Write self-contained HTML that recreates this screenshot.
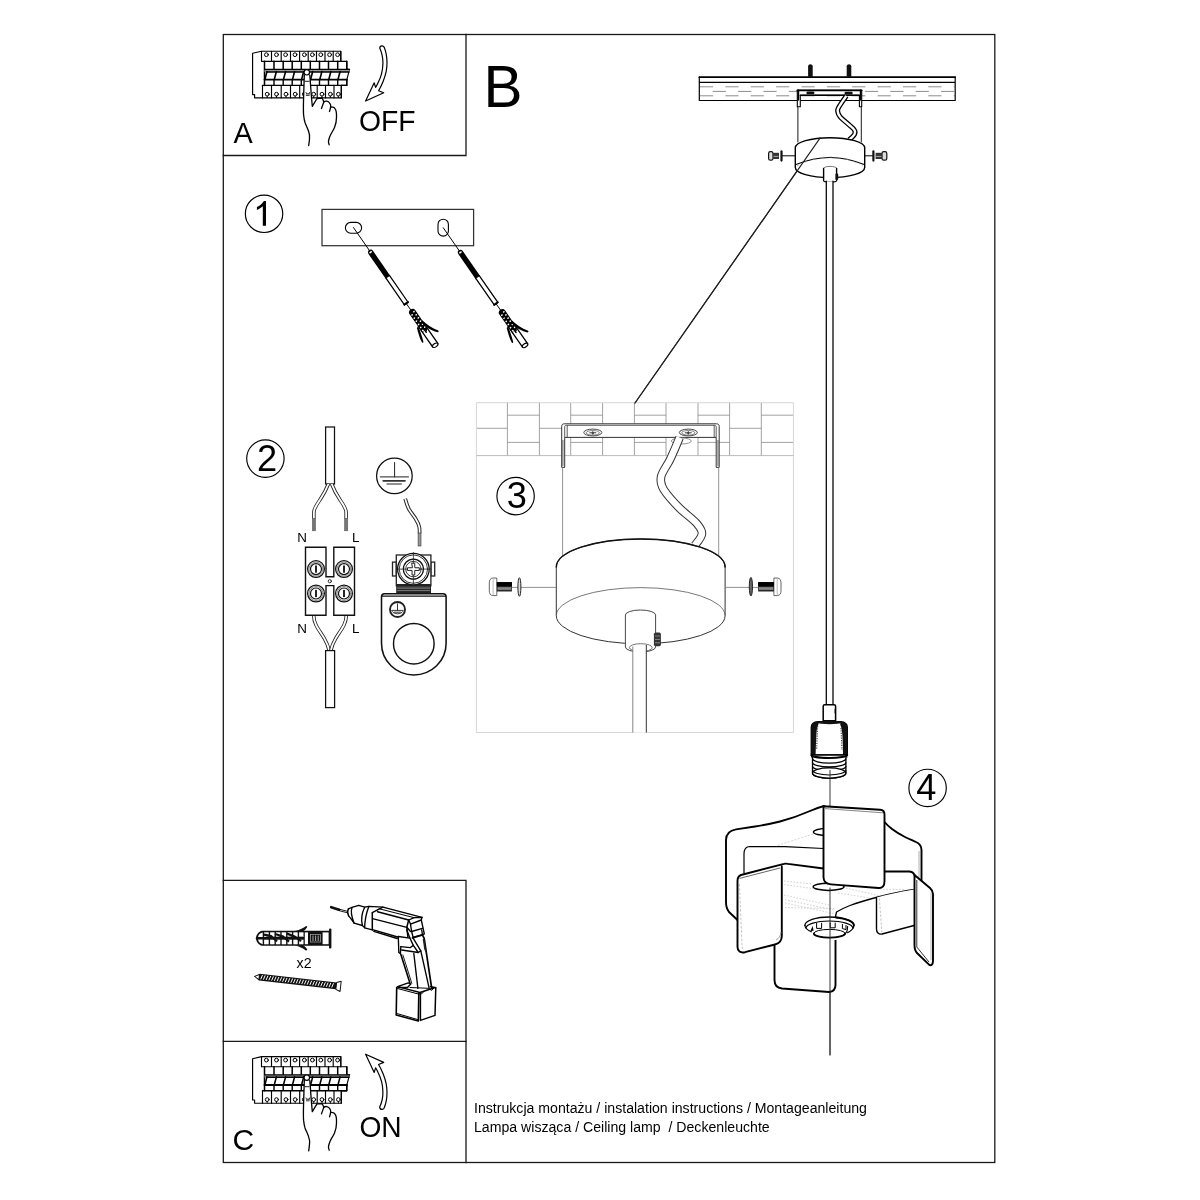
<!DOCTYPE html>
<html>
<head>
<meta charset="utf-8">
<title>Instrukcja montażu</title>
<style>
html,body{margin:0;padding:0;background:#fff;}
body{width:1200px;height:1200px;overflow:hidden;font-family:"Liberation Sans",sans-serif;}
svg{display:block;position:absolute;left:0;top:0;will-change:transform;}
text{font-family:"Liberation Sans",sans-serif;fill:#000;}
.k{fill:none;stroke:#000;stroke-linecap:round;stroke-linejoin:round;}
.w{fill:#fff;stroke:#000;stroke-linecap:round;stroke-linejoin:round;}
.b{fill:#000;stroke:none;}
.g{fill:none;stroke:#9a9a9a;stroke-width:0.8;stroke-linecap:round;stroke-linejoin:round;}
</style>
</head>
<body>
<svg width="1200" height="1200" viewBox="0 0 1200 1200">
<!-- 00_frame.svg -->
<g id="frame" class="k" stroke-width="1.3" style="stroke:#1a1a1a;stroke-linecap:square;stroke-linejoin:miter">
  <rect x="223.3" y="34.5" width="771.5" height="1128"/>
  <path d="M223.3 155.5H466V34.5"/>
  <path d="M223.3 880.4H466V1162.5"/>
  <path d="M223.3 1041.3H466"/>
</g>
<g id="labels" opacity="0.999">
  <text x="233.5" y="143.2" font-size="28.8">A</text>
  <text transform="translate(359,131) scale(1,1.05)" font-size="28.3">OFF</text>
  <text x="232.4" y="1150.2" font-size="30">C</text>
  <text transform="translate(359.4,1136.8) scale(1,1.07)" font-size="28.2">ON</text>
  <text x="483.5" y="106.8" font-size="58.5">B</text>
  <text x="474" y="1112.8" font-size="14.12" xml:space="preserve">Instrukcja montażu / instalation instructions / Montageanleitung</text>
  <text x="474" y="1131.8" font-size="14.12" xml:space="preserve">Lampa wisząca / Ceiling lamp  / Deckenleuchte</text>
</g>
<!-- 10_breaker.svg -->
<defs><g id="brk">
<path class="w" stroke-width="1.15" d="M261.5 51.2H340.8V61.3H346.8V69.4H349.5L346.8 79.8V85.4H341.3V97.8H254.6V94.6H252.6V53.3L261.5 51.2Z"/>
<path class="k" stroke-width="1.15" d="M261.5 51.2V61.3M271.5 51.2V61.3M281.2 51.2V61.3M290.5 51.2V61.3M299.6 51.2V61.3M308.2 51.2V61.3M316.5 51.2V61.3M325 51.2V61.3M333.2 51.2V61.3M340.8 51.2V61.3M261.5 61.3H340.8"/>
<circle class="k" stroke-width="1" cx="266.4" cy="54.7" r="1.9"/>
<circle class="k" stroke-width="1" cx="276.5" cy="54.7" r="1.9"/>
<circle class="k" stroke-width="1" cx="285.6" cy="54.7" r="1.9"/>
<circle class="k" stroke-width="1" cx="295" cy="54.7" r="1.9"/>
<circle class="k" stroke-width="1" cx="304.4" cy="54.7" r="1.9"/>
<circle class="k" stroke-width="1" cx="312.4" cy="54.7" r="1.9"/>
<circle class="k" stroke-width="1" cx="320.8" cy="54.7" r="1.9"/>
<circle class="k" stroke-width="1" cx="329.6" cy="54.7" r="1.9"/>
<circle class="k" stroke-width="1" cx="337.6" cy="54.7" r="1.9"/>
<path class="k" stroke-width="1.5" d="M264.5 61.3V85.4M274 61.3V69.4M283.2 61.3V69.4M292.2 61.3V69.4M301.3 61.3V69.4M310.3 61.3V69.4M319.5 61.3V69.4M328.5 61.3V69.4M337.7 61.3V69.4M346.8 61.3V69.4"/>
<path d="M264.5 69.4H349.6L349 72H264.5Z" fill="#9a9a9a"/>
<path class="k" stroke-width="1.2" d="M264.5 69.4H349.6"/>
<path class="k" stroke-width="1.5" d="M266.4 71.9H349"/>
<path class="k" stroke-width="1.8" d="M264.5 79.6H347"/>
<path class="k" stroke-width="1.6" d="M276.4 71.5L274.4 79M285.59999999999997 71.5L283.59999999999997 79M294.59999999999997 71.5L292.59999999999997 79M303.7 71.5L301.7 79M312.7 71.5L310.7 79M321.9 71.5L319.9 79M330.9 71.5L328.9 79M340.09999999999997 71.5L338.09999999999997 79M267 71.5L265 79"/>
<path class="k" stroke-width="1.4" d="M274 79.8V85.4M283.2 79.8V85.4M292.2 79.8V85.4M301.3 79.8V85.4M310.3 79.8V85.4M319.5 79.8V85.4M328.5 79.8V85.4M337.7 79.8V85.4M346.8 79.8V85.4M262.5 85.4H346.8"/>
<path class="k" stroke-width="1.15" d="M262.5 85.4V97.8M271.5 85.4V97.8M281.2 85.4V97.8M290.5 85.4V97.8M299.7 85.4V97.8M308.3 85.4V97.8M317.2 85.4V97.8M325.5 85.4V97.8M334 85.4V97.8M341.3 85.4V97.8"/>
<circle class="k" stroke-width="1" cx="267.2" cy="94.2" r="1.9"/>
<path class="k" stroke-width="0.9" d="M267.2 96.1V97.6"/>
<circle class="k" stroke-width="1" cx="276.5" cy="94.2" r="1.9"/>
<path class="k" stroke-width="0.9" d="M276.5 96.1V97.6"/>
<circle class="k" stroke-width="1" cx="286" cy="94.2" r="1.9"/>
<path class="k" stroke-width="0.9" d="M286 96.1V97.6"/>
<circle class="k" stroke-width="1" cx="295.2" cy="94.2" r="1.9"/>
<path class="k" stroke-width="0.9" d="M295.2 96.1V97.6"/>
<circle class="k" stroke-width="1" cx="304.3" cy="94.2" r="1.9"/>
<path class="k" stroke-width="0.9" d="M304.3 96.1V97.6"/>
<circle class="k" stroke-width="1" cx="313.7" cy="94.2" r="1.9"/>
<path class="k" stroke-width="0.9" d="M313.7 96.1V97.6"/>
<circle class="k" stroke-width="1" cx="322" cy="94.2" r="1.9"/>
<path class="k" stroke-width="0.9" d="M322 96.1V97.6"/>
<circle class="k" stroke-width="1" cx="330.4" cy="94.2" r="1.9"/>
<path class="k" stroke-width="0.9" d="M330.4 96.1V97.6"/>
<circle class="k" stroke-width="1" cx="338.4" cy="94.2" r="1.9"/>
<path class="k" stroke-width="0.9" d="M338.4 96.1V97.6"/>
<path d="M304.3 75 L303.6 97.5 C303.4 104 303.2 110 303.6 115 C304 118.5 304.4 120.8 305 122.5 C306.2 125.6 307.6 128.4 308.5 131 C309.6 134 309.9 136.5 309.5 139 C309.3 141.5 309 143.5 308.7 145.5 L329.2 144.8 C328.7 143.4 328.3 142.3 328.5 141 C328.9 139 329.3 137.6 330 136 C331.4 133 333.2 130.5 334.5 127.5 C335.8 124.4 336.5 121 336.5 117.5 C336.6 114.5 336.5 111.5 335.5 109.5 C334.8 108.2 334 107.4 333 107.2 L330.6 107 C330.8 105.6 330.8 104.8 330.2 104 C329.4 102.6 328.4 101.5 327 101.2 C325.8 100.9 324.6 101.3 323.8 102 C323.4 100.6 322.8 99.2 322 98.2 L317 98.5 L312.3 106.3 L311.5 97.5 L309.8 75 Z" fill="#fff" stroke="none"/>
<path class="k" stroke-width="1.3" d="M304.3 75 L303.6 97.5 C303.4 104 303.2 110 303.6 115 C304 118.5 304.4 120.8 305 122.5 C306.2 125.6 307.6 128.4 308.5 131 C309.6 134 309.9 136.5 309.5 139 C309.3 141.5 309 143.5 308.7 145.5"/>
<path class="k" stroke-width="1.3" d="M309.8 75 L311.5 97.5 L312.3 106.3 L317 98.5 L322 98.2 C322.8 99.2 323.4 100.6 323.8 102 C323 104.2 322.2 106.4 321.5 108.5"/>
<path class="k" stroke-width="1.3" d="M323.8 102 C324.6 101.3 325.8 100.9 327 101.2 C328.4 101.5 329.4 102.6 330.2 104 C330.8 104.8 330.8 105.6 330.6 107 C330.4 108.6 330 110 329.5 111.5"/>
<path class="k" stroke-width="1.3" d="M330.6 107 L333 107.2 C334 107.4 334.8 108.2 335.5 109.5 C336.5 111.5 336.6 114.5 336.5 117.5 C336.5 121 335.8 124.4 334.5 127.5 C333.2 130.5 331.4 133 330 136 C329.3 137.6 328.9 139 328.5 141 C328.3 142.3 328.7 143.4 329.2 144.8"/>
<circle class="w" stroke-width="1.1" cx="306.8" cy="72.3" r="2.7"/>
<path class="k" stroke-width="0.9" d="M305.3 81.3H309"/>
<path class="k" stroke-width="0.8" d="M306 92.5L307 94.5L308 93.2L309 94.5L309.6 92.5M306.3 95.4H309.2"/>
</g>
<path id="arw" class="w" stroke-width="1.2" d="M379.7 48.1 C379.9 46.4 381 45.7 382.2 45.8 C383.4 45.9 384.1 46.6 384.3 47.6 C385.2 49.8 385.8 52 386.2 54.1 C386.8 57 387 60 387 62.8 C387 65.8 386.7 68.7 386.2 71.4 C385.5 74.8 384.5 78 383.2 81.2 C381.9 84.4 380.4 87.6 378.6 90.7 L383.7 92.8 L365.6 101 L374.2 82.8 L375.6 87.4 C376.6 85.8 377.5 84.1 378.3 82.3 C379.7 79.5 380.8 76.6 381.6 73.6 C382.4 70.4 382.8 67.1 382.9 63.8 C383 60.9 382.7 58 382.1 55.2 C381.6 52.8 380.8 50.4 379.7 48.1Z"/>
</defs>
<use href="#brk"/>
<use href="#arw"/>
<use href="#brk" transform="translate(0,1005.4)"/>
<use href="#arw" transform="translate(0,1155.2) scale(1,-1)"/>
<!-- 20_step1.svg -->
<defs><g id="scr">
<path class="k" stroke-width="0.9" d="M-30 0H0M63 0H70"/>
<path class="b" d="M0.5 -2.7H29.5L31 -2.2V2.7H0.5C-1.6 2.7 -2.6 1.6 -2.6 0C-2.6 -1.6 -1.6 -2.7 0.5 -2.7Z"/>
<ellipse cx="0" cy="0" rx="0.9" ry="1.5" fill="#fff"/>
<path class="w" stroke-width="1.25" d="M29.8 -2.2H62.5V2.2H29.8Z"/>
<path class="k" stroke-width="2" d="M62.3 -2.2V2.2"/>
<path class="w" stroke-width="1.3" d="M88 -3.1H113.3V3.1H88Z"/>
<ellipse class="w" stroke-width="1.2" cx="113.3" cy="0" rx="1.7" ry="3.1"/>
<path class="b" d="M69.7 0C70.2 -2.6 71.5 -3.6 73.5 -3.7L94 -3.4L97 -1.2L94 0.8L97 3.4H73.5C71.5 3.6 70.2 2.6 69.7 0Z"/>
<ellipse cx="73.6" cy="-1.7" rx="0.75" ry="0.95" fill="#fff"/>
<ellipse cx="75.19999999999999" cy="1.7" rx="0.75" ry="0.95" fill="#fff"/>
<ellipse cx="77.4" cy="-1.7" rx="0.75" ry="0.95" fill="#fff"/>
<ellipse cx="79.0" cy="1.7" rx="0.75" ry="0.95" fill="#fff"/>
<ellipse cx="81.2" cy="-1.7" rx="0.75" ry="0.95" fill="#fff"/>
<ellipse cx="82.8" cy="1.7" rx="0.75" ry="0.95" fill="#fff"/>
<ellipse cx="85" cy="-1.7" rx="0.75" ry="0.95" fill="#fff"/>
<ellipse cx="86.6" cy="1.7" rx="0.75" ry="0.95" fill="#fff"/>
<ellipse cx="88.8" cy="-1.7" rx="0.75" ry="0.95" fill="#fff"/>
<ellipse cx="90.39999999999999" cy="1.7" rx="0.75" ry="0.95" fill="#fff"/>
<ellipse cx="92.4" cy="-1.7" rx="0.75" ry="0.95" fill="#fff"/>
<ellipse cx="94.0" cy="1.7" rx="0.75" ry="0.95" fill="#fff"/>
<path class="b" d="M85 -3.4C91 -4.6 97.5 -7 103 -10.9C104 -11 104.6 -10 103.9 -9.2C99 -5.2 93.5 -2.6 88 -1.6Z"/>
<path class="b" d="M88 3.3C93 4 98.5 6 103.4 7.6C104.6 8.2 104.3 9.6 103 9.3C97.5 8.6 92.5 6.4 88.6 5.2Z"/>
<path class="k" stroke-width="1.5" d="M90 0H97.5"/>
</g></defs>
<rect x="322" y="209.4" width="151.6" height="36.3" class="k" style="stroke:#333;stroke-linejoin:miter" stroke-width="1.25" transform="scale(1)" />
<rect x="345.4" y="222.4" width="16.2" height="10.9" rx="5.45" class="k" stroke-width="1.1"/>
<rect x="438" y="219.2" width="10.4" height="16.9" rx="5.2" class="k" stroke-width="1.1"/>
<use href="#scr" transform="translate(370.6,252.2) rotate(55.2)"/>
<use href="#scr" transform="translate(460.4,252.4) rotate(55.2)"/>
<circle class="k" stroke-width="1.15" cx="264.05" cy="213.75" r="18.7"/>
<path d="M266 201V225.8H262.8V206.3C261.2 207.8 259.2 209.1 256.9 210V207.1C259.8 205.8 262.4 203.6 263.9 201Z" fill="#000"/>
<circle class="k" stroke-width="1.15" cx="265.4" cy="458.6" r="18.7"/>
<text x="267.1" y="470.5" font-size="36.2" text-anchor="middle" opacity="0.999">2</text>
<circle class="k" stroke-width="1.15" cx="515.6" cy="496.1" r="18.7"/>
<text x="516.9" y="508.1" font-size="36.2" text-anchor="middle" opacity="0.999">3</text>
<circle class="k" stroke-width="1.15" cx="927.6" cy="787.9" r="18.7"/>
<text x="926.4" y="799.6" font-size="36.2" text-anchor="middle" opacity="0.999">4</text>
<!-- 30_step2.svg -->
<g id="step2" style="stroke:#222">
<rect class="w" style="stroke:#111;stroke-linejoin:miter" stroke-width="1.25" x="325.6" y="427" width="8.9" height="57"/>
<path d="M328.4 484C326 490 323.4 494.6 320.3 499.3C317.4 503.6 314.8 507 314 511C313.8 513.5 313.9 516 313.9 518.6" fill="none" stroke="#222" stroke-width="3.5" stroke-linecap="butt"/>
<path d="M328.4 484C326 490 323.4 494.6 320.3 499.3C317.4 503.6 314.8 507 314 511C313.8 513.5 313.9 516 313.9 518.6" fill="none" stroke="#fff" stroke-width="1.8" stroke-linecap="butt"/>
<path d="M331.7 484C334 490 336.6 494.6 339.7 499.3C342.6 503.6 345.2 507 346 511C346.2 513.5 346.1 516 346.1 518.6" fill="none" stroke="#222" stroke-width="3.5" stroke-linecap="butt"/>
<path d="M331.7 484C334 490 336.6 494.6 339.7 499.3C342.6 503.6 345.2 507 346 511C346.2 513.5 346.1 516 346.1 518.6" fill="none" stroke="#fff" stroke-width="1.8" stroke-linecap="butt"/>
<rect x="312.3" y="518.4" width="3.3" height="12.4" fill="#777" stroke="#555" stroke-width="0.5"/>
<rect x="344.5" y="518.4" width="3.3" height="12.4" fill="#777" stroke="#555" stroke-width="0.5"/>
<path d="M313.7 615.3C313.7 619 314.3 621.6 316 625C318.2 629.4 321.4 633.6 324.4 638.6C326.6 642.4 328.4 646.4 329.2 650.6" fill="none" stroke="#222" stroke-width="3.5" stroke-linecap="butt"/>
<path d="M313.7 615.3C313.7 619 314.3 621.6 316 625C318.2 629.4 321.4 633.6 324.4 638.6C326.6 642.4 328.4 646.4 329.2 650.6" fill="none" stroke="#fff" stroke-width="1.8" stroke-linecap="butt"/>
<path d="M346.3 615.3C346.3 619 345.7 621.6 344 625C341.8 629.4 338.6 633.6 335.6 638.6C333.4 642.4 331.6 646.4 330.8 650.6" fill="none" stroke="#222" stroke-width="3.5" stroke-linecap="butt"/>
<path d="M346.3 615.3C346.3 619 345.7 621.6 344 625C341.8 629.4 338.6 633.6 335.6 638.6C333.4 642.4 331.6 646.4 330.8 650.6" fill="none" stroke="#fff" stroke-width="1.8" stroke-linecap="butt"/>
<rect class="w" style="stroke:#111;stroke-linejoin:miter" stroke-width="1.25" x="325.6" y="650.6" width="9" height="57"/>
<path class="w" style="stroke:#111;stroke-linejoin:miter" stroke-width="1.4" d="M305.5 547.3H326V576.7H333.8V547.3H354.5V615.3H333.8V585.6H326V615.3H305.5Z"/>
<circle class="k" style="stroke:#222" stroke-width="0.9" cx="329.8" cy="581.2" r="1.6"/>
<circle class="k" style="stroke:#111" stroke-width="1.25" cx="316" cy="569.1" r="8.4"/>
<circle class="k" style="stroke:#555" stroke-width="0.7" cx="316" cy="569.1" r="7"/>
<circle class="k" style="stroke:#111" stroke-width="1.2" cx="316" cy="569.1" r="5.5"/>
<rect x="315.15" y="565.5" width="1.7" height="7.2" fill="#000" stroke="none"/>
<circle class="k" style="stroke:#111" stroke-width="1.25" cx="316" cy="593.5" r="8.4"/>
<circle class="k" style="stroke:#555" stroke-width="0.7" cx="316" cy="593.5" r="7"/>
<circle class="k" style="stroke:#111" stroke-width="1.2" cx="316" cy="593.5" r="5.5"/>
<rect x="315.15" y="589.9" width="1.7" height="7.2" fill="#000" stroke="none"/>
<circle class="k" style="stroke:#111" stroke-width="1.25" cx="344" cy="569.1" r="8.4"/>
<circle class="k" style="stroke:#555" stroke-width="0.7" cx="344" cy="569.1" r="7"/>
<circle class="k" style="stroke:#111" stroke-width="1.2" cx="344" cy="569.1" r="5.5"/>
<rect x="343.15" y="565.5" width="1.7" height="7.2" fill="#000" stroke="none"/>
<circle class="k" style="stroke:#111" stroke-width="1.25" cx="344" cy="593.5" r="8.4"/>
<circle class="k" style="stroke:#555" stroke-width="0.7" cx="344" cy="593.5" r="7"/>
<circle class="k" style="stroke:#111" stroke-width="1.2" cx="344" cy="593.5" r="5.5"/>
<rect x="343.15" y="589.9" width="1.7" height="7.2" fill="#000" stroke="none"/>
<text x="297.3" y="542.4" font-size="13.4" stroke="none" opacity="0.999">N</text>
<text x="352" y="542.4" font-size="13.4" stroke="none" opacity="0.999">L</text>
<text x="297.3" y="633.4" font-size="13.4" stroke="none" opacity="0.999">N</text>
<text x="352" y="633.4" font-size="13.4" stroke="none" opacity="0.999">L</text>
<circle class="k" style="stroke:#111" stroke-width="1.25" cx="394.4" cy="475.9" r="17.8"/>
<path class="k" style="stroke:#222" stroke-width="1" d="M394.6 462.5V476.9M380.3 476.9H408.5M386.9 484H401.5"/>
<path class="k" style="stroke:#333" stroke-width="1.6" d="M383.2 480.9H405"/>
<path d="M405.2 498.7C406.2 502.4 407.2 505.6 408.8 508.8C410.8 512.4 413.6 515.6 415.6 518.8C417.4 521.6 418.8 524.6 419.4 527.5C419.7 529.4 419.6 531.2 419.6 533.2" fill="none" stroke="#222" stroke-width="3.7" stroke-linecap="butt"/>
<path d="M405.2 498.7C406.2 502.4 407.2 505.6 408.8 508.8C410.8 512.4 413.6 515.6 415.6 518.8C417.4 521.6 418.8 524.6 419.4 527.5C419.7 529.4 419.6 531.2 419.6 533.2" fill="none" stroke="#fff" stroke-width="1.7" stroke-linecap="butt"/>
<rect x="418.1" y="533" width="2.9" height="13" fill="#999" stroke="#333" stroke-width="0.6"/>
<path class="w" style="stroke:#111" stroke-width="1.55" d="M384.5 593.8H443.1C445.3 593.8 446.1 595 446.1 597V643.2C446.1 661 431.6 674.9 413.8 674.9C396 674.9 381.5 661 381.5 643.2V597C381.5 595 382.3 593.8 384.5 593.8Z"/>
<path class="k" style="stroke:#111" stroke-width="1.2" d="M382 596.2H445.6"/>
<circle class="k" style="stroke:#111" stroke-width="1.45" cx="413.8" cy="643.7" r="20.3"/>
<circle class="k" style="stroke:#222" stroke-width="1.9" cx="397.5" cy="609.5" r="7.5"/>
<path class="k" style="stroke:#222" stroke-width="0.9" d="M397.5 603.8V610.3M391.8 610.4H403.2M392.3 611.6C394 614.6 401 614.6 402.7 611.6M394.5 612.2H400.5"/>
<rect class="w" style="stroke:#222;stroke-linejoin:miter" stroke-width="1.3" x="392.5" y="562.1" width="3.8" height="13.9"/>
<rect class="w" style="stroke:#222;stroke-linejoin:miter" stroke-width="1.3" x="430.9" y="562.1" width="3.8" height="13.9"/>
<rect class="w" style="stroke:#222;stroke-linejoin:miter" stroke-width="1.3" x="396.3" y="555" width="34.6" height="30.8"/>
<rect x="396.2" y="584" width="34.8" height="9.2" fill="#222" stroke="none"/>
<path d="M397.2 587.2H430M397.2 588.6H430" stroke="#888" stroke-width="0.7" fill="none"/>
<path d="M397.2 590.6H430" stroke="#bbb" stroke-width="0.6" fill="none"/>
<circle class="w" style="stroke:#111" stroke-width="1.3" cx="413.4" cy="569.1" r="15.8"/>
<circle class="k" style="stroke:#222" stroke-width="0.9" cx="413.4" cy="569.1" r="14.2"/>
<circle class="k" style="stroke:#111" stroke-width="1.3" cx="413.4" cy="569.1" r="10"/>
<circle class="k" style="stroke:#222" stroke-width="0.9" cx="413.4" cy="569.1" r="7.7"/>
<path class="k" style="stroke:#222" stroke-width="0.8" d="M413.4 552.6V585.6M396.3 569.1H430.9"/>
<path class="w" style="stroke:#222;stroke-linejoin:miter" stroke-width="1" d="M412.04999999999995 563.2H414.75V567.75H419.29999999999995V570.45H414.75V575.0H412.04999999999995V570.45H407.5V567.75H412.04999999999995Z"/>
</g>
<!-- 40_step3.svg -->
<g id="step3">
<path d="M476.4 428.3H507.4M507.4 415.2H539.4M507.4 442.4H539.4M539.4 428.3H570.7M570.7 415.2H602.6M570.7 442.4H602.6M602.6 428.3H634.4M634.4 415.2H666M634.4 442.4H666M666 428.3H698M698 415.2H729.6M698 442.4H729.6M729.6 428.3H761.3M761.3 415.2H793.4M761.3 442.4H793.4M507.4 402.7V455.7M539.4 402.7V455.7M570.7 402.7V455.7M602.6 402.7V455.7M634.4 402.7V455.7M666 402.7V455.7M698 402.7V455.7M729.6 402.7V455.7M761.3 402.7V455.7" fill="none" stroke="#8a8a8a" stroke-width="0.8"/>
<path d="M476.4 402.7H793.4V732.5H476.4Z" fill="none" stroke="#d6d6d6" stroke-width="1"/>
<path d="M476.4 455.6H793.4" fill="none" stroke="#b4b4b4" stroke-width="0.9"/>
<path class="k" stroke-width="1.15" style="stroke:#222" d="M635 403L820 138.2"/>
<path d="M561.7 467.4V426.4C561.7 424.6 562.6 423.8 564.4 423.8H716.5C718.3 423.8 719.2 424.6 719.2 426.4V467.4H716.2V437.4H564.7V467.4Z" fill="#fff" stroke="#333" stroke-width="1" stroke-linejoin="round"/>
<path d="M564.7 437.4V427C564.7 425.8 565.3 425.3 566.5 425.3H714.4C715.6 425.3 716.2 425.8 716.2 427V437.4M567.2 425.3V437.4M714.2 425.3V437.4" fill="none" stroke="#333" stroke-width="0.8"/>
<path d="M562.9 440V466" fill="none" stroke="#777" stroke-width="1.2"/>
<path d="M718 440V466" fill="none" stroke="#777" stroke-width="1.2"/>
<path d="M562.6 467.4V556M718.7 467.4V556" fill="none" stroke="#777" stroke-width="0.8"/>
<ellipse cx="592.8" cy="432.5" rx="9" ry="3.4" fill="#fff" stroke="#333" stroke-width="0.9"/>
<ellipse cx="592.8" cy="432.8" rx="6.6" ry="2.3" fill="none" stroke="#555" stroke-width="0.7"/>
<path d="M589.4 432.8H596.1999999999999M592.8 431.2V434.6" fill="none" stroke="#222" stroke-width="0.9"/>
<ellipse cx="592.8" cy="432.9" rx="1.2" ry="1" fill="#444"/>
<ellipse cx="688.3" cy="432.5" rx="9" ry="3.4" fill="#fff" stroke="#333" stroke-width="0.9"/>
<ellipse cx="688.3" cy="432.8" rx="6.6" ry="2.3" fill="none" stroke="#555" stroke-width="0.7"/>
<path d="M684.9 432.8H691.6999999999999M688.3 431.2V434.6" fill="none" stroke="#222" stroke-width="0.9"/>
<ellipse cx="688.3" cy="432.9" rx="1.2" ry="1" fill="#444"/>
<ellipse cx="681.3" cy="441" rx="10" ry="3" fill="#fff" stroke="#777" stroke-width="0.8"/>
<path d="M679.6 437.6C676.6 445 673.6 452 670.4 458.8C667 466 662 471.4 661 477C660.2 481.6 661.4 485.6 663.7 489.5C668 496.4 674 502.6 680 508.6C686 514.4 693 519 697.2 524C699.8 527.2 702.2 530.2 702 533.5C701.8 537.4 698.6 540.6 694.6 545.5" fill="none" stroke="#333" stroke-width="8.6" stroke-linecap="butt"/>
<path d="M679.6 437.6C676.6 445 673.6 452 670.4 458.8C667 466 662 471.4 661 477C660.2 481.6 661.4 485.6 663.7 489.5C668 496.4 674 502.6 680 508.6C686 514.4 693 519 697.2 524C699.8 527.2 702.2 530.2 702 533.5C701.8 537.4 698.6 540.6 694.6 545.5" fill="none" stroke="#fff" stroke-width="6.6" stroke-linecap="butt"/>
<path d="M556.3000000000001 567A84.4 28.1 0 0 1 725.1 567V615.7A84.4 28.1 0 0 1 556.3000000000001 615.7Z" fill="#fff" stroke="#333" stroke-width="1"/>
<path d="M556.3000000000001 615.7A84.4 28.1 0 0 1 725.1 615.7" fill="none" stroke="#555" stroke-width="0.8"/>
<path d="M556.3000000000001 567A84.4 28.1 0 0 1 725.1 567" fill="none" stroke="#111" stroke-width="1.5" stroke-linecap="round"/>
<path d="M511.9 587.4H556.3M725.1 587.4H758.1" fill="none" stroke="#777" stroke-width="0.8"/>
<path d="M496.8 578H492.90000000000003C490.3 578 489.3 580.4 489.3 583V590.6C489.3 593.2 490.3 595.6 492.90000000000003 595.6H496.8Z" fill="#fff" stroke="#555" stroke-width="0.9"/>
<path d="M493.1 578.4V595.2" fill="none" stroke="#aaa" stroke-width="0.8"/>
<rect x="496.8" y="582.1" width="15.099999999999966" height="9.4" fill="#2a2a2a"/>
<rect x="496.8" y="582.1" width="15.099999999999966" height="4.2" fill="#000"/>
<rect x="497.6" y="587.2" width="13.499999999999966" height="2.6" fill="#8a8a8a"/>
<path d="M773.9 578H777.4C780 578 781 580.4 781 583V590.6C781 593.2 780 595.6 777.4 595.6H773.9Z" fill="#fff" stroke="#555" stroke-width="0.9"/>
<path d="M777.2 578.4V595.2" fill="none" stroke="#aaa" stroke-width="0.8"/>
<rect x="758.1" y="582.1" width="15.799999999999955" height="9.4" fill="#2a2a2a"/>
<rect x="758.1" y="582.1" width="15.799999999999955" height="4.2" fill="#000"/>
<rect x="758.9" y="587.2" width="14.199999999999955" height="2.6" fill="#8a8a8a"/>
<ellipse cx="519.4" cy="587" rx="1.5" ry="9.3" fill="#ddd" stroke="#222" stroke-width="1"/>
<ellipse cx="750.9" cy="586.7" rx="1.6" ry="9.3" fill="#666" stroke="#222" stroke-width="1"/>
<path d="M625.4 615A15.1 5 0 0 1 655.6 615V647A15.1 5 0 0 1 625.4 647Z" fill="#fff" stroke="#333" stroke-width="0.9"/>
<ellipse cx="640.8" cy="647.6" rx="11.4" ry="3.9" fill="#fff" stroke="#555" stroke-width="0.8"/>
<rect x="632.8" y="646.5" width="13.4" height="86" fill="#fff" stroke="none"/>
<path d="M632.8 646.5V732.5" fill="none" stroke="#777" stroke-width="0.9"/>
<path d="M646.3 645V732.5" fill="none" stroke="#333" stroke-width="1"/>
<rect x="653.9" y="632.6" width="7" height="13.6" rx="1.6" fill="#333"/>
<path d="M655 636H660M655 639.4H660M655 642.8H660" stroke="#aaa" stroke-width="0.7" fill="none"/>
</g>
<!-- 50_main.svg -->
<g id="main">
<rect x="699.3" y="77.2" width="255.9" height="23.3" fill="#fff" stroke="none"/>
<path d="M700.0 86.8H713.2M700.0 95.8H713.2M725.4 86.8H738.6M725.4 95.8H738.6M750.7 86.8H763.9M750.7 95.8H763.9M776.1 86.8H789.3M776.1 95.8H789.3M801.5 86.8H814.7M801.5 95.8H814.7M826.9 86.8H840.1M826.9 95.8H840.1M852.2 86.8H865.4M852.2 95.8H865.4M877.6 86.8H890.8M877.6 95.8H890.8M903.0 86.8H916.2M903.0 95.8H916.2M928.3 86.8H941.5M928.3 95.8H941.5M953.7 86.8H954.6M953.7 95.8H954.6M712.7 91.4H725.9M738.1 91.4H751.3M763.4 91.4H776.6M788.8 91.4H802.0M814.2 91.4H827.4M839.5 91.4H852.7M864.9 91.4H878.1M890.3 91.4H903.5M915.6 91.4H928.8M941.0 91.4H954.2" fill="none" stroke="#777" stroke-width="0.85"/>
<path class="k" stroke-width="1.7" d="M699.3 77.2H955.2"/>
<path class="k" stroke-width="1.2" d="M699.3 77.2V100.5H955.2V77.2M699.3 82.4H955.2"/>
<path d="M808.1 77V66.3C808.1 63.6 812.6999999999999 63.6 812.6999999999999 66.3V77Z" fill="#111"/>
<path d="M846.7 77V66.3C846.7 63.6 851.3 63.6 851.3 66.3V77Z" fill="#111"/>
<path d="M797.3 106.8V90.3H861.7V106.8H859.4V95.2H800.3V106.8Z" fill="#fff" stroke="#000" stroke-width="1.1" stroke-linejoin="round"/>
<path class="k" stroke-width="1.7" d="M797.3 90.3H861.7"/>
<path class="k" stroke-width="1.6" d="M798.4 90.3V100M860.6 90.3V100"/>
<path class="k" stroke-width="1.5" d="M800.3 95.2H859.4"/>
<rect x="806.4" y="91.6" width="8" height="2.6" rx="1.2" fill="#111"/>
<rect x="844.6" y="91.8" width="8" height="2.8" rx="1.2" fill="#111"/>
<path class="k" stroke-width="0.9" d="M797.9 107V142M861.3 107V142"/>
<path d="M846.3 95.8C844.4 98.8 842.4 101.6 840.5 104.5C838.8 107 837.4 108.8 837.6 110.9C837.8 113.4 838.8 115.4 840.5 117.3C843.4 120.2 846.8 122.8 849.8 125.5C852.2 127.6 855 129.6 855.1 131.9C855.2 134 853.8 135.8 852.2 137.2C851.2 138.1 850.2 138.8 849.3 139.6" fill="none" stroke="#000" stroke-width="5" stroke-linecap="butt"/>
<path d="M846.3 95.8C844.4 98.8 842.4 101.6 840.5 104.5C838.8 107 837.4 108.8 837.6 110.9C837.8 113.4 838.8 115.4 840.5 117.3C843.4 120.2 846.8 122.8 849.8 125.5C852.2 127.6 855 129.6 855.1 131.9C855.2 134 853.8 135.8 852.2 137.2C851.2 138.1 850.2 138.8 849.3 139.6" fill="none" stroke="#fff" stroke-width="2.4" stroke-linecap="butt"/>
<path d="M795.3 147.8A34.7 10.1 0 0 1 864.7 147.8V167.5A34.7 10.1 0 0 1 795.3 167.5Z" fill="#fff" stroke="#000" stroke-width="1.4" stroke-linejoin="round"/>
<path d="M796 164.6Q830 150.4 864 164.6" fill="none" stroke="#000" stroke-width="1.1"/>
<path d="M797 166Q830 148 863 166" fill="none" stroke="#999" stroke-width="0.7" stroke-dasharray="2.5 6"/>
<path class="k" stroke-width="1.15" style="stroke:#222" d="M635 403L820 138.2"/>
<path class="k" stroke-width="1" d="M782 155.8H795.3M864.7 155.8H873"/>
<rect x="768.6" y="151.6" width="4.399999999999977" height="8.6" rx="1.8" fill="#ddd" stroke="#111" stroke-width="1.2"/>
<rect x="773" y="152.8" width="6" height="6.2" fill="#333"/>
<path d="M773.6 156.4H778.4" stroke="#aaa" stroke-width="1" fill="none"/>
<path d="M781.5 151.4V160.6" stroke="#111" stroke-width="2.2" fill="none" stroke-linecap="round"/>
<rect x="882" y="151.6" width="4.7999999999999545" height="8.6" rx="1.8" fill="#ddd" stroke="#111" stroke-width="1.2"/>
<rect x="875.6" y="152.8" width="6.399999999999977" height="6.2" fill="#333"/>
<path d="M876.2 156.4H881.4" stroke="#aaa" stroke-width="1" fill="none"/>
<path d="M873.4 151.4V160.6" stroke="#111" stroke-width="2.2" fill="none" stroke-linecap="round"/>
<path d="M823.6 168.4A6.5 2 0 0 1 836.6 168.4V180.6H823.6Z" fill="#fff" stroke="none"/>
<path d="M823.6 168.4A6.5 2 0 0 1 836.6 168.4" fill="none" stroke="#555" stroke-width="0.8"/>
<path class="k" stroke-width="1.4" d="M823.6 168.4V180.6M836.6 168.4V180.6"/>
<path d="M823.6 180.4A6.5 1.6 0 0 0 836.6 180.4" fill="#fff" stroke="#000" stroke-width="1.2"/>
<rect x="835.4" y="173.6" width="2.8" height="6.4" rx="1" fill="#111"/>
<rect x="826.4" y="181.5" width="6.6" height="524" fill="#fff" stroke="none"/>
<path class="k" stroke-width="1.25" d="M826.3 181.2V704.8M833 181.2V704.8"/>
<path d="M823.2 720.8V706.2C823.2 705.2 823.8 704.8 824.8 704.8H834C835 704.8 835.6 705.2 835.6 706.2V720.8Z" fill="#fff" stroke="#000" stroke-width="1.5" stroke-linejoin="round"/>
<path class="k" stroke-width="1.2" d="M835.2 709V713"/>
<path d="M811.3 755V727.5C811.3 724 814 722 818 721.7H840.6C844.6 722 847.3 724 847.3 727.5V755Z" fill="#fff" stroke="#000" stroke-width="1.4" stroke-linejoin="round"/>
<path d="M811.3 758V727.5C811.3 724 814 722 818 721.7L818.6 724C816.8 727 816.6 731 816.3 736C816 742 815.8 748 815.6 754.5Z" fill="#111"/>
<path d="M847.3 758V727.5C847.3 724 844.6 722 840.6 721.7L840.2 724.4C841.8 728 842.2 732 842.5 737C842.8 743 843 749 843 754.5Z" fill="#111"/>
<path d="M814 722.6C819 720.9 824 720.8 829.4 720.8C834.6 720.8 840 720.9 844.6 722.6C840 724 835 724.2 829.4 724.2C824 724.2 819 724 814 722.6Z" fill="#111"/>
<path d="M817.6 726L816.6 750M841 728L842 750" stroke="#444" stroke-width="1.2" fill="none" stroke-dasharray="1.2 1.2"/>
<path d="M812.5 755V773A16.7 5.2 0 0 0 845.9 773V755Z" fill="#fff" stroke="#000" stroke-width="1.3"/>
<path d="M811.3 754.7A18 3.4 0 0 0 847.3 754.7" fill="none" stroke="#000" stroke-width="2"/>
<path d="M812.5 758.6A16.7 4.6 0 0 0 845.9 758.6" fill="none" stroke="#000" stroke-width="1.3"/>
<path d="M812.5 762.4A16.7 4.6 0 0 0 845.9 762.4" fill="none" stroke="#000" stroke-width="1.3"/>
<path d="M812.5 766.2A16.7 4.6 0 0 0 845.9 766.2" fill="none" stroke="#000" stroke-width="1.3"/>
<ellipse cx="829.2" cy="773" rx="16.7" ry="5.2" fill="#fff" stroke="#000" stroke-width="1.4"/>
<path d="M812.5 770A16.7 5 0 0 0 845.9 770" fill="none" stroke="#000" stroke-width="1.2"/>
<path class="k" stroke-width="0.9" style="stroke:#222" d="M830 770.4V1055"/>
</g>
<!-- 60_shade.svg -->
<g id="shade">
<path d="M824 806 C818 807.6 815 808.8 810 811 C800 815.4 790 818.8 780 821.5 C770 824 762 825.4 755 826.5 L736 829.4 C730 830.4 726 834 726 840 L726 902 C726 906 727 909.4 729 912 L737.5 920 L760 930 L921.5 900 L921.5 850 C921.5 846 919.6 843.6 916 842 C912 840.2 908.6 838.8 905 837 C899.6 834.2 895.4 831.6 892 829 C889 826.6 886.4 824.2 884.5 822 L884.5 812 Z" fill="#fff" stroke="none"/>
<path class="k" stroke-width="1.9" d="M824 806 C818 807.6 815 808.8 810 811 C800 815.4 790 818.8 780 821.5 C770 824 762 825.4 755 826.5 L736 829.4 C730 830.4 726 834 726 840 L726 902 C726 906 727 909.4 729 912 L737.5 920"/>
<path class="k" stroke-width="1.9" d="M884.5 822 C886.4 824.2 889 826.6 892 829 C895.4 831.6 899.6 834.2 905 837 C908.6 838.8 912 840.2 916 842 C919.6 843.6 921.5 846 921.5 850 L921.5 881"/>
<path d="M919 851V878" fill="none" stroke="#999" stroke-width="0.8"/>
<path class="k" stroke-width="1.2" d="M744 873V854C744 849.6 745.6 846.6 750 846.5L785 846.7L823.5 848.5"/>
<path d="M813 834L776 846" fill="none" stroke="#c4c4c4" stroke-width="0.7" stroke-dasharray="2 1.5"/>
<ellipse cx="828" cy="832" rx="14.6" ry="3.6" class="k" stroke-width="1.4"/>
<path d="M781 867 L785 863.5 L823 868.5 L884.5 871.5 L909 871.5 C912 871.6 913.6 873 914.5 875 L914.5 889.5 C908 890.4 904 891.2 900 892 C892 893.6 884 895.4 876 897.5 C866 900.2 858 902.6 850 905.5 C844 907.8 840 909.8 836.5 912 L835.5 917 L835.5 985 C835.5 989.4 833.6 991.6 829 992 L782 988.5 C777 988 774.5 985 774.5 980 L774.5 940 Z" fill="#fff" stroke="none"/>
<path d="M784 881L812 884" fill="none" stroke="#bdbdbd" stroke-width="0.7" stroke-dasharray="1.6 1.6"/>
<path d="M784 884.6L813 888.6" fill="none" stroke="#bdbdbd" stroke-width="0.7" stroke-dasharray="1.6 1.6"/>
<path d="M784 895L829 905" fill="none" stroke="#bdbdbd" stroke-width="0.7" stroke-dasharray="1.6 1.6"/>
<path d="M785 899.6L834 910" fill="none" stroke="#bdbdbd" stroke-width="0.7" stroke-dasharray="1.6 1.6"/>
<path d="M785 903L834 913.6" fill="none" stroke="#bdbdbd" stroke-width="0.7" stroke-dasharray="1.6 1.6"/>
<path d="M785 907.6L836 908.4" fill="none" stroke="#bdbdbd" stroke-width="0.7" stroke-dasharray="1.6 1.6"/>
<path d="M845 884L884 889.5L905 889.5" fill="none" stroke="#bdbdbd" stroke-width="0.7" stroke-dasharray="1.6 1.6"/>
<path d="M846 888L880 896" fill="none" stroke="#bdbdbd" stroke-width="0.7" stroke-dasharray="1.6 1.6"/>
<path d="M838 893L870 898" fill="none" stroke="#bdbdbd" stroke-width="0.7" stroke-dasharray="1.6 1.6"/>
<path class="k" stroke-width="1.9" d="M884.5 871.5H909C912 871.6 913.6 873 914.5 875"/>
<path class="k" stroke-width="1.3" d="M914.5 889.5C908 890.4 904 891.2 900 892C892 893.6 884 895.4 876 897.5C866 900.2 858 902.6 850 905.5C844 907.8 840 909.8 836.5 912L835.4 917"/>
<path class="k" stroke-width="1.9" d="M774.5 945.5V980C774.5 985 777 988 782 988.5L829 992C833.6 991.6 835.5 989.4 835.5 985V937.6"/>
<path d="M876.5 897.5V929C876.5 932.6 878.6 934.6 882 934L914 925.5V889.5C900 892 888 894.4 876.5 897.5Z" fill="#fff" stroke="none"/>
<path class="k" stroke-width="1.4" d="M876.5 897.5V929C876.5 932.6 878.6 934.6 882 934L914 925.5"/>
<path d="M879.4 898.5L881.8 932" fill="none" stroke="#aaa" stroke-width="0.7" stroke-dasharray="2.4 1.6"/>
<path d="M914.5 875L930 888C932.2 890 933 891.4 933 894V961C933 964.6 931 966 929 964.6L917 953C915 951 914.5 948.6 914.5 945Z" fill="#fff" stroke="#000" stroke-width="1.9" stroke-linejoin="round"/>
<path d="M916.8 880V947L929 962" fill="none" stroke="#000" stroke-width="0.8"/>
<path d="M931 893V960" fill="none" stroke="#999" stroke-width="0.7"/>
<path d="M737.5 881C737.5 877.6 738.4 876 741 875L785 863.5L781.8 867V936C781.8 941 779.4 943.4 775 944.5L745 952.2C740.4 953.2 737.5 951 737.5 947Z" fill="#fff" stroke="none"/>
<path class="k" stroke-width="1.9" d="M781.8 866.5V936C781.8 941 779.4 943.4 775 944.5L745 952.2C740.4 953.2 737.5 951 737.5 947V881C737.5 877.6 738.4 876 741 875L784 863.8C785.4 863.4 786.4 863.5 788 863.9L823.5 868.5"/>
<path d="M739.6 878.4L780 868" fill="none" stroke="#555" stroke-width="0.9"/>
<path d="M739.4 884L742.2 949" fill="none" stroke="#aaa" stroke-width="0.7" stroke-dasharray="2.6 1.6"/>
<path d="M776 940C779 938.6 780.6 936 781 932" fill="none" stroke="#888" stroke-width="0.8"/>
<ellipse cx="828.6" cy="886.8" rx="15.4" ry="3.6" fill="#fff" stroke="#000" stroke-width="1.5"/>
<path d="M804.9 925.4A24.5 8.4 0 0 1 853.9 925.4C853.9 928 851 930.6 847.5 932.6L845 936A15.6 4.1 0 0 1 813.8 936L811.3 931.8C807.6 930 804.9 928 804.9 925.4Z" fill="#fff" stroke="none"/>
<path class="k" stroke-width="1.3" d="M804.9 925.4A24.5 8.4 0 0 1 853.9 925.4"/>
<path class="k" stroke-width="2" d="M836 917.4A24.5 8.4 0 0 1 853.9 925.4"/>
<path class="k" stroke-width="1.2" d="M806 928A23.4 7 0 0 1 852.8 928"/>
<path class="k" stroke-width="1.2" d="M804.9 925.4C805 928.2 807.6 930 811.3 931.8M853.9 925.4C853.8 928.6 851 930.8 847.5 932.7"/>
<ellipse cx="829.4" cy="933.5" rx="15.6" ry="4.1" fill="#fff" stroke="#000" stroke-width="1"/>
<path class="k" stroke-width="1.8" d="M813.8 933.5A15.6 4.1 0 0 0 845 933.5"/>
<path class="k" stroke-width="1.2" d="M847.6 926.6C847.8 929 847.4 931.4 845 934.4"/>
<path class="k" stroke-width="1" d="M816.6 923.4V928.4H821.6V923.2M830.2 923V927.8H835.2V923M842.4 924.4V928.6L846 929.6V925.4"/>
<path d="M812.6 926L810.2 931.4L813.6 930.4Z" fill="#000"/>
<path class="k" stroke-width="0.9" style="stroke:#222" d="M830 888V1055"/>
<path d="M823.5 806.2L880 809.8C883 810 884.5 811.6 884.5 814.5V881C884.5 886 882.6 888.2 878.6 888L831 884.4C826 884 823.5 881.6 823.5 877Z" fill="#fff" stroke="#000" stroke-width="1.9" stroke-linejoin="round"/>
<path d="M825 808.6L883 812.8" fill="none" stroke="#777" stroke-width="0.9"/>
</g>
<!-- 70_tools.svg -->
<g id="tools">
<path d="M262 930.8H329V945.8H262C258.6 945.2 256.4 942 255.8 938.3C256.4 934.6 258.6 931.4 262 930.8Z" fill="#111"/>
<rect x="329" y="928.6" width="2.4" height="19.8" rx="1" fill="#111"/>
<path d="M295 931C299 930 303 928.4 305.8 926.2C306.8 925.8 307.6 926.8 307 927.6C305.8 929.2 304.6 930.4 303 931.6Z" fill="#111"/>
<path d="M295 945.6C299 946.6 303 948.2 305.8 950.4C306.8 950.8 307.6 949.8 307 949C305.8 947.4 304.6 946.2 303 945Z" fill="#111"/>
<path d="M262.7 932.4V937H258.1C258.5 934.8 259.3 933.2 262.7 932.4Z" fill="#fff"/>
<path d="M262.7 944.2V939.6H258.1C258.5 941.8 259.3 943.4 262.7 944.2Z" fill="#fff"/>
<rect x="264.09999999999997" y="932.3" width="4.600000000000023" height="4.6" fill="#fff"/>
<rect x="264.09999999999997" y="939.7" width="4.600000000000023" height="4.6" fill="#fff"/>
<rect x="270.09999999999997" y="932.3" width="4.400000000000034" height="4.6" fill="#fff"/>
<rect x="270.09999999999997" y="939.7" width="4.400000000000034" height="4.6" fill="#fff"/>
<rect x="275.9" y="932.3" width="4.400000000000034" height="4.6" fill="#fff"/>
<rect x="275.9" y="939.7" width="4.400000000000034" height="4.6" fill="#fff"/>
<rect x="281.7" y="932.3" width="4.400000000000034" height="4.6" fill="#fff"/>
<rect x="281.7" y="939.7" width="4.400000000000034" height="4.6" fill="#fff"/>
<rect x="287.5" y="932.3" width="4.400000000000034" height="4.6" fill="#fff"/>
<rect x="287.5" y="939.7" width="4.400000000000034" height="4.6" fill="#fff"/>
<rect x="293.3" y="932.3" width="4.399999999999977" height="4.6" fill="#fff"/>
<rect x="293.3" y="939.7" width="4.399999999999977" height="4.6" fill="#fff"/>
<rect x="299.09999999999997" y="932.3" width="4.400000000000034" height="4.6" fill="#fff"/>
<rect x="299.09999999999997" y="939.7" width="4.400000000000034" height="4.6" fill="#fff"/>
<path d="M264 934.6L271 936L277 941.4M275 934L283 936.4L289 941.6M287 933.6L295 936.6L301 941.2M266 937.8H303" fill="none" stroke="#111" stroke-width="2.2"/>
<rect x="304.8" y="932.4" width="3.2" height="11.8" fill="#fff"/>
<rect x="322.6" y="932.4" width="6" height="11.8" fill="#fff"/>
<rect x="310.4" y="934.6" width="10" height="7.4" fill="none" stroke="#999" stroke-width="0.8"/>
<path d="M313 935.6V941M315.6 935.6V941M318.2 935.6V941" stroke="#bbb" stroke-width="0.9" fill="none"/>
<text x="296.6" y="967.6" font-size="14.2" opacity="0.999">x2</text>
<g transform="translate(253.8,976.3) rotate(6.55)">
<path d="M0 0L5.6 -3.2H83V3.6H5.6Z" fill="#111"/>
<path d="M7.2 2.2L8.5 -2.2M9.9 2.2L11.2 -2.2M12.7 2.2L14.0 -2.2M15.4 2.2L16.8 -2.2M18.2 2.2L19.5 -2.2M20.9 2.2L22.2 -2.2M23.7 2.2L25.0 -2.2M26.4 2.2L27.8 -2.2M29.2 2.2L30.5 -2.2M31.9 2.2L33.2 -2.2M34.7 2.2L36.0 -2.2M37.5 2.2L38.8 -2.2M40.2 2.2L41.5 -2.2M43.0 2.2L44.2 -2.2M45.7 2.2L47.0 -2.2M48.5 2.2L49.8 -2.2M51.2 2.2L52.5 -2.2M54.0 2.2L55.2 -2.2M56.7 2.2L58.0 -2.2M59.5 2.2L60.8 -2.2M62.2 2.2L63.5 -2.2M65.0 2.2L66.2 -2.2M67.7 2.2L69.0 -2.2M70.5 2.2L71.8 -2.2M73.2 2.2L74.5 -2.2M76.0 2.2L77.2 -2.2M78.7 2.2L80.0 -2.2" fill="none" stroke="#fff" stroke-width="0.95"/>
<path d="M1.6 0L5 -1.6V1.8Z" fill="#fff"/>
<path d="M83 -3.2L87.4 -5V5.2L83 3.6Z" fill="#fff" stroke="#111" stroke-width="1" stroke-linejoin="round"/>
</g>
<path d="M348.4 908.8L352.0 907.4L358.7 905.3L364.7 907.2L368.8 906.4L383.0 907.2L422.0 917.3L421.3 920.0L424.3 933.8L424.2 938.3L431.7 987.5L435.8 987.5L435.0 1015.4L418.8 1021.0L396.2 1015.0L396.7 987.5L408.3 982.9L400.8 954.2L398.8 952.5L398.3 936.7L397.7 937.0L372.5 929.6L362.4 925.5L354.1 923.2L350.9 918.6L348.6 915.9Z" fill="#fff" stroke="none"/>
<path d="M331.2 907.2L339.0 909.7" fill="none" stroke="#111" stroke-width="2.7" stroke-linecap="round"/>
<path class="k" stroke-width="0.9" d="M339.0 909.1L347.7 911.4" />
<path class="k" stroke-width="0.9" d="M339.0 910.6L347.4 912.8" />
<path class="k" stroke-width="1.35" d="M348.4 908.8Q346.8 912.2 348.6 915.9" />
<path class="k" stroke-width="1.35" d="M348.4 908.8L352.0 907.4L358.7 905.3L364.7 907.2L368.8 906.4L383.0 907.2L422.0 917.3" />
<path class="k" stroke-width="1.35" d="M348.6 915.9L350.9 918.6L354.1 923.2L362.4 925.5L364.7 927.8L372.3 929.9" />
<path class="k" stroke-width="1.35" d="M352.0 907.4Q350.0 913.1 354.1 923.2" />
<path class="k" stroke-width="1.35" d="M364.7 907.2Q360.1 916.3 362.4 925.5" />
<path class="k" stroke-width="1.35" d="M368.8 906.4Q364.7 917.3 364.7 927.8" />
<path class="k" stroke-width="1.35" d="M372.3 912.7L377.5 909.9L383.0 907.2" />
<path class="k" stroke-width="1.0" d="M377.5 909.9L379.3 908.8L414.2 917.7" />
<path class="k" stroke-width="1.5" d="M377.5 911.8L408.7 920.0" />
<path class="k" stroke-width="1.5" d="M372.3 912.7L372.3 930.1" />
<path class="k" stroke-width="1.35" d="M372.5 918.6L406.8 927.3" />
<path class="k" stroke-width="1.35" d="M372.5 929.6L397.7 937.0" />
<path class="k" stroke-width="1.35" d="M373.8 931.4L397.2 938.5" />
<path class="k" stroke-width="1.35" d="M408.7 920.0L414.2 917.7L422.0 917.3L421.3 920.0L410.5 924.1L408.7 920.0" />
<path class="k" stroke-width="1.5" d="M408.7 920.0L406.8 927.3L407.9 937.0" />
<path class="k" stroke-width="1.35" d="M410.5 924.1L411.6 931.5L422.4 928.3" />
<path class="k" stroke-width="1.35" d="M411.6 931.5L413.1 937.4L423.8 934.2" />
<path class="k" stroke-width="1.35" d="M421.3 920.0L424.3 933.8" />
<path class="k" stroke-width="1.35" d="M406.8 927.3L410.5 931.5" />
<path class="k" stroke-width="1.35" d="M398.3 936.5L398.8 952.5L400.4 953.8L400.8 946.7" />
<path class="k" stroke-width="1.35" d="M398.3 936.5L410.0 938.2" />
<path class="k" stroke-width="1.35" d="M400.8 946.7L410.0 947.7L413.3 945.4L410.0 938.2L406.8 930.0" />
<path class="k" stroke-width="1.35" d="M401.7 950.0L418.3 952.5L413.3 945.4" />
<path class="k" stroke-width="1.6" d="M400.8 954.2L410.0 983.3" />
<path class="k" stroke-width="0.9" d="M402.9 955.0L411.8 983.3" />
<path class="k" stroke-width="1.35" d="M413.8 953.3L417.9 988.3" />
<path class="k" stroke-width="1.35" d="M418.3 952.5L420.8 950.8L429.2 988.3" />
<path class="k" stroke-width="1.35" d="M413.3 938.3L420.8 950.8" />
<path class="k" stroke-width="1.7" d="M412.5 937.9L422.5 935.0L424.2 938.3L431.7 988.3" />
<path class="k" stroke-width="1.35" d="M422.5 935.0L421.7 930.0" />
<path d="M422.7 939.2L424.2 938.3L426.7 954.2L424.2 949.2Z" fill="#222"/>
<path class="k" stroke-width="1.35" d="M397.5 986.7L408.3 982.9L410.8 984.0L407.5 987.5L398.3 987.5" />
<path class="k" stroke-width="1.35" d="M397.5 986.7L420.0 992.5L435.0 987.5L430.4 986.7" />
<path class="k" stroke-width="1.6" d="M396.7 987.5L396.2 1015.0L418.3 1021.0L418.8 993.3" />
<path class="k" stroke-width="1.5" d="M420.4 992.9L420.4 1020.4L435.0 1015.4L435.8 987.5" />
<path class="k" stroke-width="1.0" d="M397.5 988.5L418.3 994.0L421.7 993.8L424.2 991.2" />
<path class="k" stroke-width="1.0" d="M397.1 1013.6L417.9 1019.6" />
<path class="k" stroke-width="1.0" d="M410.0 987.5L428.3 988.3L431.7 990.4L433.8 988.3" />
</g>
</svg>
</body>
</html>
